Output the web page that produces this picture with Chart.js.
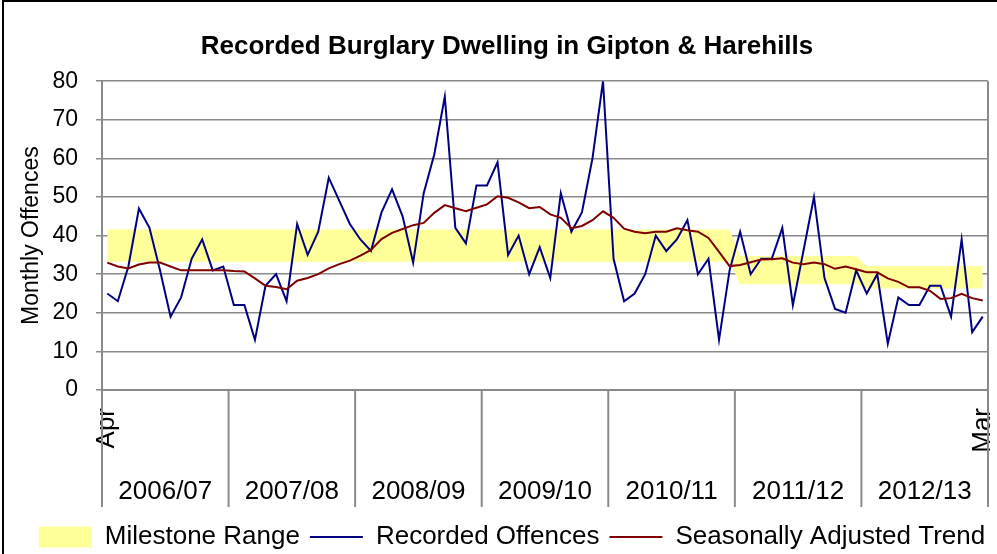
<!DOCTYPE html>
<html><head><meta charset="utf-8">
<script src="https://cdn.jsdelivr.net/npm/chart.js@4/dist/chart.umd.min.js"></script>
<style>html,body{margin:0;padding:0;background:#fff}canvas{display:block}</style>
</head><body>
<canvas id="c" width="997" height="554"></canvas>
<script>
// ---- data ----
const monthNames = ['Apr','May','Jun','Jul','Aug','Sep','Oct','Nov','Dec','Jan','Feb','Mar'];
const years = ['2006/07','2007/08','2008/09','2009/10','2010/11','2011/12','2012/13'];
const recorded = [
  25,23,32,47,42,31,19,24,34,39,31,32,
  22,22,13,27,30,23,43,35,41,55,49,43,
  39,36,46,52,45,33,51,61,76,42,38,53,
  53,59,35,40,30,37,29,51,41,46,60,80,
  34,23,25,30,40,36,39,44,30,34,13,31,
  41,30,34,34,42,22,36,50,29,21,20,31,
  25,30,12,24,22,22,27,27,19,39,15,19
];
const trend = [
  33,32,31.5,32.5,33,33,32,31,31,31,31,31,
  30.8,30.7,28.9,27,26.7,26.1,28.3,29,30,31.5,32.6,33.5,
  34.8,36.3,39.1,40.7,41.7,42.7,43.3,45.9,47.9,47.1,46.3,47.2,
  48.1,50.2,49.8,48.6,47.1,47.4,45.5,44.6,41.9,42.5,44,46.3,
  44.6,41.8,41,40.6,41,41,41.9,41.4,41,39.4,35.8,32.1,
  32.4,33.1,33.8,33.9,34.1,33,32.6,33,32.6,31.4,32,31.3,
  30.5,30.5,28.9,28,26.6,26.6,25.7,23.6,23.8,24.9,23.8,23.2
];
// milestone range per financial year
const milestoneLower = [33.2,33.2,33.2,33.2,33.2,27.4,26.3];
const milestoneUpper = [41.6,41.6,41.6,41.6,41.6,34.7,32.1];
const yMin = 0, yMax = 80, yStep = 10;

// ---- derived tables ----
const categories = years.flatMap(y => monthNames.map(m => m + ' ' + y));
const lowerByMonth = milestoneLower.flatMap(v => monthNames.map(() => v));
const upperByMonth = milestoneUpper.flatMap(v => monthNames.map(() => v));

const FONT = "'Liberation Sans', Arial, Helvetica, sans-serif";
const GRID = '#8a8a8a';
Chart.defaults.font.family = FONT;
Chart.defaults.color = '#000';

const background = {
  id: 'background',
  beforeDraw(chart) {
    const ctx = chart.ctx;
    ctx.save();
    ctx.fillStyle = '#fff';
    ctx.fillRect(0, 0, chart.width, chart.height);
    ctx.restore();
  },
  afterLayout(chart) {
    // shift legend and title blocks slightly right, as in the original
    if (chart.legend) { chart.legend.left += 18; chart.legend.right += 18; }
    if (chart.titleBlock) { chart.titleBlock.left += 13; chart.titleBlock.right += 13; }
  },
  afterDraw(chart) {
    const ctx = chart.ctx;
    ctx.save();
    ctx.strokeStyle = '#000';
    ctx.lineWidth = 2;
    ctx.beginPath();
    ctx.moveTo(3, chart.height);
    ctx.lineTo(3, 1);
    ctx.lineTo(chart.width, 1);
    ctx.stroke();
    ctx.restore();
  }
};

const yearDividers = {
  id: 'yearDividers',
  afterDraw(chart) {
    const xs = chart.scales.x, area = chart.chartArea, ctx = chart.ctx;
    const step = xs.getPixelForValue(1) - xs.getPixelForValue(0);
    ctx.save();
    ctx.strokeStyle = GRID;
    ctx.lineWidth = 2;
    for (let k = 0; k <= years.length; k++) {
      const px = xs.getPixelForValue(k * monthNames.length) - step / 2;
      ctx.beginPath();
      ctx.moveTo(px, k === years.length ? area.top : area.bottom);
      ctx.lineTo(px, area.bottom + 117);
      ctx.stroke();
    }
    ctx.restore();
  }
};

new Chart(document.getElementById('c'), {
  type: 'line',
  data: {
    labels: categories,
    datasets: [
      { label: 'milestone-base', data: lowerByMonth, borderColor: 'rgba(0,0,0,0)', backgroundColor: 'rgba(0,0,0,0)',
        borderWidth: 0, pointRadius: 0, fill: false, order: 3 },
      { label: 'Milestone Range', data: upperByMonth, borderColor: 'rgba(0,0,0,0)', backgroundColor: '#FFFF99',
        borderWidth: 0, pointRadius: 0, fill: '-1', order: 2, pointStyle: 'rect' },
      { label: 'Recorded Offences', data: recorded, borderColor: '#000080', backgroundColor: '#000080',
        borderWidth: 2, pointRadius: 0, fill: false, tension: 0, order: 1, pointStyle: 'line' },
      { label: 'Seasonally Adjusted Trend', data: trend, borderColor: '#800000', backgroundColor: '#800000',
        borderWidth: 2, pointRadius: 0, fill: false, tension: 0, order: 0, pointStyle: 'line' }
    ]
  },
  options: {
    responsive: false,
    animation: false,
    devicePixelRatio: 1,
    layout: { padding: { left: 0, right: 9, top: 0, bottom: -6 } },
    plugins: {
      title: {
        display: true,
        text: 'Recorded Burglary Dwelling in Gipton & Harehills',
        font: { family: FONT, size: 26, weight: 'bold' },
        color: '#000',
        padding: { top: 31, bottom: 19 }
      },
      legend: {
        position: 'bottom',
        labels: {
          usePointStyle: true,
          pointStyleWidth: 53,
          boxHeight: 21,
          padding: 10,
          font: { family: FONT, size: 26 },
          color: '#000',
          filter: item => item.datasetIndex !== 0,
          sort: (a, b) => a.datasetIndex - b.datasetIndex
        }
      },
      tooltip: { enabled: false }
    },
    scales: {
      x: {
        type: 'category',
        offset: true,
        weight: 0,
        grid: { display: false, drawTicks: false },
        border: { display: true, color: GRID, width: 2 },
        ticks: {
          autoSkip: false,
          minRotation: 90,
          maxRotation: 90,
          padding: 18,
          font: { family: FONT, size: 26 },
          color: '#000',
          callback: (v, i) => (i === 0 || i === categories.length - 1) ? monthNames[i % monthNames.length] : ''
        },
        afterFit: s => { s.height = 68; s.paddingRight = 0; s.paddingLeft = 0; }
      },
      x2: {
        type: 'category',
        position: 'bottom',
        labels: years,
        offset: true,
        weight: 1,
        grid: { display: false, drawTicks: false },
        border: { display: false },
        ticks: { padding: 18, font: { family: FONT, size: 26 }, color: '#000', autoSkip: false, maxRotation: 0 },
        afterFit: s => { s.height = 56; s.paddingRight = 0; s.paddingLeft = 0; }
      },
      y: {
        min: yMin, max: yMax,
        ticks: { stepSize: yStep, padding: 18, font: { family: FONT, size: 23 }, color: '#000' },
        grid: { color: GRID, lineWidth: 1.5, tickLength: 6 },
        border: { display: true, color: GRID, width: 2 },
        title: { display: true, text: 'Monthly Offences', font: { family: FONT, size: 23 }, color: '#000', padding: { top: 18, bottom: 0 } },
        afterFit: s => { s.width = 102; }
      }
    }
  },
  plugins: [background, yearDividers]
});
</script>
</body></html>
